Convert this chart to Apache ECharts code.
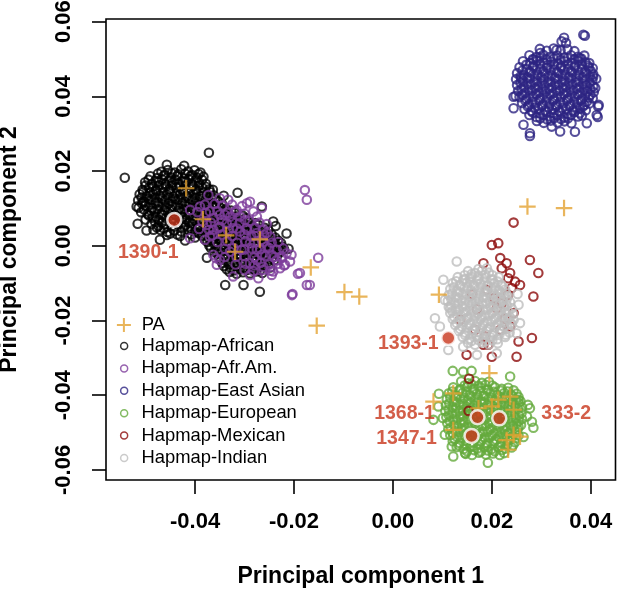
<!DOCTYPE html>
<html><head><meta charset="utf-8">
<script src="https://cdn.jsdelivr.net/npm/echarts@6/dist/echarts.min.js"></script>
<style>html,body{margin:0;padding:0;background:#fff}#c{width:617px;height:591px}</style>
</head><body><div id="c"></div>
<script>
// all point values below are in units of 0.0001 (PC1, PC2)
const UNIT = 1e-4;
const xTicks = [-0.04, -0.02, 0, 0.02, 0.04];
const yTicks = [-0.06, -0.04, -0.02, 0, 0.02, 0.04, 0.06];
const groupNames = ['Hapmap-African','Hapmap-Afr.Am.','Hapmap-East Asian','Hapmap-European','Hapmap-Mexican','Hapmap-Indian'];

const african = [
[-468,198],[-455,203],[-441,196],[-428,205],[-414,199],[-401,202],[-389,196],
[-490,186],[-477,181],[-463,188],[-449,183],[-436,186],[-422,180],[-409,187],[-396,182],[-383,185],
[-501,170],[-487,166],[-474,171],[-460,165],[-446,169],[-433,167],[-419,172],[-405,164],[-392,169],[-378,166],
[-506,150],[-493,155],[-479,149],[-466,154],[-452,151],[-438,156],[-425,149],[-411,153],[-398,150],[-385,155],[-371,151],
[-512,138],[-498,133],[-485,139],[-471,135],[-457,137],[-444,132],[-430,138],[-417,134],[-403,139],[-390,133],[-376,137],[-362,135],
[-515,122],[-502,118],[-488,123],[-475,117],[-461,121],[-447,119],[-434,124],[-420,118],[-406,122],[-393,117],[-379,121],[-366,124],[-353,119],
[-514,102],[-500,107],[-487,101],[-473,106],[-459,103],[-446,105],[-432,100],[-418,106],[-405,102],[-391,107],[-378,101],[-364,105],[-350,103],[-338,99],
[-509,90],[-496,85],[-482,91],[-468,86],[-455,89],[-441,84],[-427,90],[-414,87],[-400,91],[-387,85],[-373,89],[-359,86],[-346,90],[-332,85],[-320,88],
[-500,70],[-486,75],[-473,69],[-459,74],[-445,71],[-432,75],[-418,70],[-405,73],[-391,69],[-377,74],[-364,71],[-350,75],[-336,70],[-323,73],[-310,69],[-297,74],
[-488,58],[-474,53],[-461,57],[-447,52],[-434,57],[-420,55],[-406,59],[-393,53],[-379,57],[-365,54],[-352,58],[-338,53],[-325,57],[-311,54],[-298,58],[-285,53],[-272,56],
[-470,42],[-456,37],[-442,41],[-428,38],[-414,43],[-400,37],[-387,41],[-373,38],[-359,42],[-346,37],[-332,41],[-318,38],[-305,42],[-291,37],[-278,41],[-265,38],[-252,42],
[-430,26],[-400,22],[-386,27],[-372,21],[-358,25],[-345,22],[-331,26],[-317,21],[-304,25],[-290,22],[-277,27],[-263,21],[-250,25],[-238,22],
[-375,10],[-361,5],[-347,9],[-334,6],[-320,11],[-306,5],[-293,9],[-279,6],[-266,10],[-252,5],[-239,9],[-226,7],
[-368,-6],[-354,-11],[-340,-7],[-327,-10],[-313,-5],[-299,-9],[-286,-6],[-272,-11],[-259,-7],[-245,-10],[-232,-5],[-220,-9],
[-355,-22],[-341,-27],[-328,-23],[-314,-26],[-300,-21],[-287,-25],[-273,-22],[-260,-27],[-246,-23],[-233,-25],
[-348,-38],[-334,-43],[-321,-39],[-307,-42],[-293,-37],[-280,-41],[-266,-38],[-253,-43],[-240,-39],
[-342,-54],[-328,-59],[-314,-55],[-301,-58],[-287,-53],[-273,-57],[-260,-54],[-248,-58],
[-330,-70],[-316,-75],[-303,-71],[-289,-74],[-276,-69],[-264,-73],
[-475,193],[-461,190],[-447,194],[-434,191],[-420,193],[-406,189],[-393,192],
[-494,177],[-480,174],[-467,178],[-453,175],[-440,177],[-426,173],[-413,178],[-399,175],[-386,177],
[-500,161],[-486,158],[-473,162],[-459,159],[-446,161],[-432,157],[-419,162],[-405,159],[-392,161],[-378,158],
[-505,145],[-491,142],[-478,146],[-464,143],[-451,145],[-437,141],[-424,146],[-410,143],[-397,145],[-383,142],[-370,144],
[-508,129],[-494,126],[-481,130],[-467,127],[-454,129],[-440,125],[-427,130],[-413,127],[-400,129],[-386,126],[-373,128],[-360,125],
[-507,113],[-493,110],[-480,114],[-466,111],[-453,113],[-439,109],[-426,114],[-412,111],[-399,113],[-385,110],[-372,112],[-358,109],[-345,111],
[-503,97],[-489,94],[-476,98],[-462,95],[-449,97],[-435,93],[-422,98],[-408,95],[-395,97],[-381,94],[-368,96],[-354,93],[-340,95],[-327,94],
[-493,81],[-479,78],[-466,82],[-452,79],[-439,81],[-425,77],[-412,82],[-398,79],[-385,81],[-371,78],[-358,80],[-344,77],[-330,79],[-316,78],[-303,80],
[-481,65],[-467,62],[-426,63],[-412,62],[-399,66],[-385,63],[-372,65],[-358,61],[-344,66],[-331,63],[-317,65],[-304,62],[-291,64],[-278,61],
[-477,49],[-463,46],[-422,50],[-408,46],[-395,48],[-381,45],[-367,49],[-353,46],[-340,48],[-326,45],[-312,49],[-299,46],[-285,48],[-272,45],[-259,48],
[-450,33],[-436,30],[-407,31],[-393,34],[-379,30],[-366,33],[-352,29],[-338,32],[-324,30],[-311,33],[-297,29],[-284,32],[-270,30],[-257,33],[-245,30],
[-380,17],[-366,14],[-352,18],[-339,15],[-325,17],[-311,13],[-298,18],[-284,15],[-271,17],[-257,14],[-244,16],[-232,14],
[-371,1],[-357,-2],[-344,2],[-330,-1],[-316,1],[-303,-3],[-289,2],[-276,-1],[-262,1],[-249,-2],[-236,0],[-224,-2],
[-361,-15],[-347,-18],[-334,-14],[-320,-17],[-306,-15],[-293,-19],[-279,-14],[-266,-17],[-252,-15],[-239,-18],[-227,-16],
[-351,-31],[-337,-34],[-324,-30],[-310,-33],[-296,-31],[-283,-35],[-269,-30],[-256,-33],[-243,-31],
[-345,-47],[-331,-50],[-317,-46],[-304,-49],[-290,-47],[-276,-51],[-263,-46],[-251,-49],
[-336,-63],[-322,-66],[-309,-62],[-295,-65],[-282,-63],[-269,-66],
[-542,182],[-372,249],[-457,217],[-492,230],[-422,214],[-364,150],[-342,134],[-314,142],[-265,105],[-242,65],
[-237,53],[-215,33],[-211,-8],[-376,-32],[-339,-105],[-302,-105],[-269,-123],[-516,59],[-498,41],[-505,118],
[-518,105],[-484,43],[-457,29],[-471,16],[-420,14]
];

const afrAm = [
[-373,136],[-350,127],[-333,123],[-289,118],[-265,101],[-410,96],[-390,105],[-370,92],[-363,74],[-350,83],
[-340,83],[-329,78],[-316,96],[-309,78],[-299,69],[-275,78],[-376,56],[-363,43],[-350,51],[-336,60],
[-323,47],[-410,20],[-380,16],[-370,25],[-309,38],[-296,47],[-286,25],[-275,34],[-265,16],[-255,34],
[-363,-24],[-350,-38],[-356,-51],[-329,-16],[-316,-29],[-306,-11],[-289,7],[-275,-11],[-265,-24],[-255,-2],
[-289,-47],[-275,-38],[-262,-56],[-245,-24],[-235,-38],[-225,-29],[-215,-20],[-205,-24],[-208,-42],[-242,-69],
[-228,-60],[-218,-51],[-323,-82],[-289,-78],[-272,-87],[-203,-129],[-188,-73],[-174,-105],[-178,149],[-174,123],
[-151,-32],[-295,114],[-358,-33],[-245,-78],[-204,-132],[-192,-75],[-168,-105],
[-380,110],[-360,112],[-345,108],[-325,110],[-305,106],[-395,90],[-378,88],[-355,93],[-335,88],[-318,90],
[-300,86],[-282,92],[-385,65],[-368,62],[-345,68],[-325,64],[-310,60],[-290,66],[-270,62],[-255,58],
[-392,45],[-372,42],[-352,47],[-333,40],[-315,46],[-295,42],[-278,48],[-262,44],[-365,28],[-345,30],
[-325,26],[-300,30],[-280,27],[-260,29],[-248,24],[-355,10],[-335,12],[-315,8],[-298,12],[-280,9],
[-262,11],[-245,8],[-232,10],[-340,-8],[-322,-6],[-300,-10],[-285,-7],[-268,-9],[-250,-6],[-235,-10],
[-222,-7],[-340,-30],[-300,-28],[-280,-31],[-258,-27],[-240,-30],[-225,-33],[-318,-50],[-298,-48],[-280,-52],
[-268,-46],[-250,-50],[-232,-48],[-220,-53],[-300,-65],[-282,-68],[-262,-64],[-248,-67]
];

const eastAsian = [
[297,527],[311,522],[325,528],[339,523],[353,526],[367,521],
[276,510],[290,505],[304,511],[318,506],[332,509],[346,504],[360,510],[374,506],[387,509],
[263,494],[277,489],[291,495],[305,490],[319,493],[333,488],[347,494],[361,490],[375,495],[389,491],[397,489],
[256,478],[270,473],[284,479],[298,474],[312,477],[326,472],[340,478],[354,474],[368,479],[382,473],[396,477],[404,475],
[251,462],[265,457],[279,463],[293,458],[307,461],[321,456],[335,462],[349,458],[363,463],[377,457],[391,461],[405,459],
[249,446],[263,441],[277,447],[291,442],[305,445],[319,440],[333,446],[347,442],[361,447],[375,441],[389,445],[403,443],[411,447],
[251,430],[265,425],[279,431],[293,426],[307,429],[321,424],[335,430],[349,426],[363,431],[377,425],[391,429],[405,427],
[253,414],[267,409],[281,415],[295,410],[309,413],[323,408],[337,414],[351,410],[365,415],[379,409],[393,413],[406,411],
[256,398],[270,393],[284,399],[298,394],[312,397],[326,392],[340,398],[354,394],[368,399],[382,393],[396,397],[404,395],
[261,382],[275,377],[289,383],[303,378],[317,381],[331,376],[345,382],[359,378],[373,383],[387,377],[397,381],
[266,366],[280,361],[294,367],[308,362],[322,365],[336,360],[350,366],[364,362],[378,367],[390,363],
[276,350],[290,345],[304,351],[318,346],[332,349],[346,344],[360,350],[374,346],[382,349],
[291,334],[305,329],[319,335],[333,330],[347,333],[361,328],
[283,500],[297,502],[311,498],[325,501],[339,497],[353,502],[367,499],[381,501],
[270,485],[284,482],[298,486],[312,483],[326,485],[340,481],[354,486],[368,483],[382,485],[394,482],
[262,469],[276,466],[290,470],[304,467],[318,469],[332,465],[346,470],[360,467],[374,469],[388,466],[400,468],
[258,453],[272,450],[286,454],[300,451],[314,453],[328,449],[342,454],[356,451],[370,453],[384,450],[398,452],
[258,437],[272,434],[286,438],[300,435],[314,437],[328,433],[342,438],[356,435],[370,437],[384,434],[398,436],
[260,421],[274,418],[288,422],[302,419],[316,421],[330,417],[344,422],[358,419],[372,421],[386,418],[399,420],
[262,405],[276,402],[290,406],[304,403],[318,405],[332,401],[346,406],[360,403],[374,405],[388,402],[399,404],
[268,389],[282,386],[296,390],[310,387],[324,389],[338,385],[352,390],[366,387],[380,389],[392,386],
[273,373],[287,370],[301,374],[315,371],[329,373],[343,369],[357,374],[371,371],[384,373],
[283,357],[297,354],[311,358],[325,355],[339,357],[353,353],[367,358],[378,355],
[298,341],[312,338],[326,342],[340,339],[354,341],
[388,562],[346,557],[350,543],[341,547],[385,565],[368,305],[277,294],[277,301],[264,324],[321,319],
[338,306],[392,328],[412,350],[415,373],[414,345],[416,377],[409,422],[405,453],[378,502],[248,401],
[244,399],[244,368],[260,449],[284,498],[298,516],[331,524]
];

const european = [
[138,-363],[152,-368],[166,-362],[180,-367],[194,-364],
[122,-379],[136,-384],[150,-378],[164,-383],[178,-380],[192,-385],[206,-379],[220,-383],[233,-380],
[113,-395],[127,-400],[141,-394],[155,-399],[169,-396],[183,-401],[197,-395],[211,-399],[225,-394],[239,-398],[250,-396],
[109,-411],[123,-416],[137,-410],[151,-415],[165,-412],[179,-417],[193,-411],[207,-415],[221,-410],[235,-414],[249,-412],[258,-416],
[107,-427],[121,-432],[135,-426],[149,-431],[163,-428],[177,-433],[191,-427],[205,-431],[219,-426],[233,-430],[247,-428],[261,-432],
[106,-443],[120,-448],[134,-442],[148,-447],[162,-444],[176,-449],[190,-443],[204,-447],[218,-442],[232,-446],[246,-444],[260,-448],
[108,-459],[122,-464],[136,-458],[150,-463],[164,-460],[178,-465],[192,-459],[206,-463],[220,-458],[234,-462],[248,-460],[261,-464],
[110,-475],[124,-480],[138,-474],[152,-479],[166,-476],[180,-481],[194,-475],[208,-479],[222,-474],[236,-478],[250,-476],[259,-480],
[112,-491],[126,-496],[140,-490],[154,-495],[168,-492],[182,-497],[196,-491],[210,-495],[224,-490],[238,-494],[252,-492],
[116,-507],[130,-512],[144,-506],[158,-511],[172,-508],[186,-513],[200,-507],[214,-511],[228,-506],[242,-510],[254,-508],
[121,-523],[135,-528],[149,-522],[163,-527],[177,-524],[191,-529],[205,-523],[219,-527],[233,-522],[247,-526],
[129,-539],[143,-544],[157,-538],[171,-543],[185,-540],[199,-545],[213,-539],[227,-543],[240,-540],
[146,-555],[160,-560],[174,-554],[188,-559],[202,-556],[216,-560],[225,-555],
[145,-374],[159,-371],[173,-375],[187,-372],[201,-374],
[120,-390],[134,-387],[148,-391],[162,-388],[176,-390],[190,-386],[204,-391],[218,-388],[232,-390],[244,-387],
[116,-406],[130,-403],[144,-407],[158,-404],[172,-406],[186,-402],[200,-407],[214,-404],[228,-406],[242,-403],[254,-405],
[114,-422],[128,-419],[142,-423],[156,-420],[170,-422],[184,-418],[198,-423],[212,-420],[226,-422],[240,-419],[254,-421],
[113,-438],[127,-435],[141,-439],[155,-436],[169,-438],[183,-434],[197,-439],[211,-436],[225,-438],[239,-435],[253,-437],
[113,-454],[127,-451],[141,-455],[155,-452],[169,-454],[183,-450],[197,-455],[211,-452],[225,-454],[239,-451],[254,-453],
[115,-470],[129,-467],[143,-471],[157,-468],[171,-470],[185,-466],[199,-471],[213,-468],[227,-470],[241,-467],[254,-469],
[117,-486],[131,-483],[145,-487],[159,-484],[173,-486],[187,-482],[201,-487],[215,-484],[229,-486],[243,-483],[254,-485],
[121,-502],[135,-499],[149,-503],[163,-500],[177,-502],[191,-498],[205,-503],[219,-500],[233,-502],[247,-499],
[125,-518],[139,-515],[153,-519],[167,-516],[181,-518],[195,-514],[209,-519],[223,-516],[237,-518],[249,-515],
[133,-534],[147,-531],[161,-535],[175,-532],[189,-534],[203,-530],[217,-535],[231,-532],[243,-534],
[150,-550],[164,-547],[178,-551],[192,-548],[206,-550],[220,-547],
[192,-581],[147,-557],[121,-335],[159,-335],[142,-337],[93,-396],[82,-466],[101,-461],[105,-506],[119,-537],
[122,-564],[284,-487],[273,-426],[271,-457],[264,-512],[92,-430],[237,-350],[254,-412],[277,-435],[281,-471]
];

const mexican = [
[244,62],[200,2],[213,7],[277,-38],[294,-73],[284,-136],[217,-33],[230,-47],[220,-60],[183,-47],
[233,-87],[247,-96],[257,-105],[240,-113],[233,-131],[237,-73],[244,-180],[210,-167],[237,-216],[281,-247],
[254,-256],[250,-297],[136,-198],[149,-292],[183,-265],[200,-297],[166,-225],[220,-154],[190,-118],[186,-243],
[217,-225],[193,-265],[154,-356],[153,-442],[226,-195],[205,-140],[170,-170],[160,-130]
];

const indian = [
[152,-68],[166,-73],[180,-67],[194,-72],
[131,-84],[145,-89],[159,-83],[173,-88],[187,-85],[201,-90],[214,-84],
[121,-100],[135,-105],[149,-99],[163,-104],[177,-101],[191,-106],[205,-100],[219,-104],
[116,-116],[130,-121],[144,-115],[158,-120],[172,-117],[186,-122],[200,-116],[214,-120],[227,-117],
[113,-132],[127,-137],[141,-131],[155,-136],[169,-133],[183,-138],[197,-132],[211,-136],[225,-131],[232,-135],
[111,-148],[125,-153],[139,-147],[153,-152],[167,-149],[181,-154],[195,-148],[209,-152],[223,-147],[237,-151],
[113,-164],[127,-169],[141,-163],[155,-168],[169,-165],[183,-170],[197,-164],[211,-168],[225,-163],[240,-167],
[116,-180],[130,-185],[144,-179],[158,-184],[172,-181],[186,-186],[200,-180],[214,-184],[228,-179],[243,-183],
[121,-196],[135,-201],[149,-195],[163,-200],[177,-197],[191,-202],[205,-196],[219,-200],[233,-195],[244,-199],
[126,-212],[140,-217],[154,-211],[168,-216],[182,-213],[196,-218],[210,-212],[224,-216],[240,-211],
[133,-228],[147,-233],[161,-227],[175,-232],[189,-229],[203,-234],[217,-228],[236,-232],
[141,-244],[155,-249],[169,-243],[183,-248],[197,-245],[211,-250],[227,-244],
[152,-260],[166,-265],[180,-259],[194,-264],[212,-261],
[145,-79],[159,-76],[173,-80],[187,-77],[201,-79],
[128,-95],[142,-92],[156,-96],[170,-93],[184,-95],[198,-91],[212,-96],
[123,-111],[137,-108],[151,-112],[165,-109],[179,-111],[193,-107],[207,-112],[221,-109],
[120,-127],[134,-124],[148,-128],[162,-125],[176,-127],[190,-123],[204,-128],[218,-125],[229,-127],
[118,-143],[132,-140],[146,-144],[160,-141],[174,-143],[188,-139],[202,-144],[216,-141],[230,-143],
[118,-159],[132,-156],[146,-160],[160,-157],[174,-159],[188,-155],[202,-160],[216,-157],[230,-159],
[120,-175],[134,-172],[148,-176],[162,-173],[176,-175],[190,-171],[204,-176],[218,-173],[233,-175],
[124,-191],[138,-188],[152,-192],[166,-189],[180,-191],[194,-187],[208,-192],[222,-189],[236,-191],
[129,-207],[143,-204],[157,-208],[171,-205],[185,-207],[199,-203],[213,-208],[227,-205],[238,-207],
[136,-223],[150,-220],[164,-224],[178,-221],[192,-223],[206,-219],[220,-224],[232,-221],
[146,-239],[160,-236],[174,-240],[188,-237],[202,-239],[216,-235],[228,-238],
[159,-255],[173,-252],[187,-256],[201,-253],
[129,-42],[102,-91],[85,-194],[95,-216],[112,-279],[142,-270],[170,-292],[210,-288],[254,-158],[257,-207],
[250,-234],[173,-62],[190,-60],[156,-87],[105,-145],[116,-167],[252,-129]
];

const pa = [
[-418,154],[-384,71],[-337,28],[-319,-16],[-269,17],[-166,-58],[-98,-124],[-68,-136],[-154,-214],[272,105],
[346,101],[93,-131],[195,-341],[82,-417],[122,-395],[173,-435],[200,-430],[213,-412],[237,-404],[244,-439],
[122,-493],[230,-520],[244,-506],[257,-511],[233,-546]
];

const highlightNames = ['1390-1','1393-1','1368-1','333-2','1347-1'];
const highlightPts = [[-442,69],[112,-247],[171,-459],[215,-462],[159,-509]];

// ---- styles ----
const FONT = '"Liberation Sans", Arial, Helvetica, sans-serif';
const groupColors = ['#000000','#7D3C9B','#2D2482','#64AA3C','#8C0A0A','#BEBEBE'];
const paColor = '#E3A232';
const hlColor = '#C8361B';
const labelOffsets = {'1390-1':[-26,33],'1393-1':[-40,6],'1368-1':[-73,-4],'333-2':[67,-5],'1347-1':[-65,3]};
const CROSS = 'path://M0,5L10,5M5,0L5,10';

const toXY = arr => arr.map(p => [p[0]*UNIT, p[1]*UNIT]);
const groupData = [african, afrAm, eastAsian, european, mexican, indian];

const series = groupData.map((d, i) => ({
  name: groupNames[i], type: 'scatter', data: toXY(d),
  symbol: 'circle', symbolSize: 8.5,
  itemStyle: {color: 'transparent', borderColor: groupColors[i], borderWidth: 2.1},
  emphasis: {disabled: true}, silent: true
}));
series.push({
  name: 'PA', type: 'scatter', data: toXY(pa),
  symbol: CROSS, symbolSize: 16.5,
  itemStyle: {color: 'transparent', borderColor: paColor, borderWidth: 2.2},
  emphasis: {disabled: true}, silent: true
});
series.push({
  name: 'highlight', type: 'scatter',
  data: highlightNames.map((n, i) => ({
    name: n, value: [highlightPts[i][0]*UNIT, highlightPts[i][1]*UNIT],
    label: {offset: labelOffsets[n]}
  })),
  symbol: 'circle', symbolSize: 14,
  itemStyle: {color: hlColor, borderColor: '#fff', borderWidth: 2.5},
  label: {show: true, position: 'inside', formatter: '{b}', color: hlColor,
          fontSize: 19.5, fontWeight: 'bold', fontFamily: FONT},
  emphasis: {disabled: true}, silent: true
});

const legendText = {fontSize: 18.4, color: '#000', fontFamily: FONT, lineHeight: 22.4};
const option = {
  animation: false,
  backgroundColor: '#fff',
  grid: {left: 106, right: 1.5, top: 19, bottom: 111, show: true, containLabel: false,
         outerBoundsMode: 'none',
         borderColor: '#000', borderWidth: 1.6, backgroundColor: 'transparent'},
  xAxis: {
    type: 'value', min: -0.0580, max: 0.0450,
    axisLine: {show: false, onZero: false}, splitLine: {show: false},
    axisTick: {show: true, customValues: xTicks, length: 14, lineStyle: {color: '#000', width: 1.6}},
    axisLabel: {customValues: xTicks, formatter: v => v.toFixed(2), margin: 31,
                fontSize: 22, fontWeight: 'bold', color: '#000', fontFamily: FONT},
    name: 'Principal component 1', nameLocation: 'middle', nameGap: 85,
    nameTextStyle: {fontSize: 23, fontWeight: 'bold', color: '#000', fontFamily: FONT}
  },
  yAxis: {
    type: 'value', min: -0.0627, max: 0.0607,
    axisLine: {show: false, onZero: false}, splitLine: {show: false},
    axisTick: {show: true, customValues: yTicks, length: 14, lineStyle: {color: '#000', width: 1.6}},
    axisLabel: {customValues: yTicks, formatter: v => v.toFixed(2), margin: 31, rotate: 90,
                fontSize: 22, fontWeight: 'bold', color: '#000', fontFamily: FONT},
    name: 'Principal component 2', nameLocation: 'middle', nameGap: 85,
    nameTextStyle: {fontSize: 23, fontWeight: 'bold', color: '#000', fontFamily: FONT}
  },
  legend: [
    {data: [{name: 'PA', itemStyle: {color: 'transparent', borderColor: paColor, borderWidth: 2}}],
     orient: 'vertical', left: 115.9, top: 313.8, itemWidth: 14, itemHeight: 14, itemGap: 0,
     padding: 0, selectedMode: false,
     textStyle: Object.assign({padding: [0, 0, 0, 5.8]}, legendText)},
    {data: groupNames.map((n, i) => ({name: n, icon: 'circle',
       itemStyle: {color: 'transparent', borderColor: groupColors[i], borderWidth: 1.5}})),
     orient: 'vertical', left: 119.9, top: 334.8, itemWidth: 7, itemHeight: 7, itemGap: 0,
     padding: 0, selectedMode: false,
     textStyle: Object.assign({padding: [0, 0, 0, 8.8]}, legendText)}
  ],
  series: series
};
const chart = echarts.init(document.getElementById('c'), null, {renderer: 'canvas'});
chart.setOption(option);
</script>
</body></html>
